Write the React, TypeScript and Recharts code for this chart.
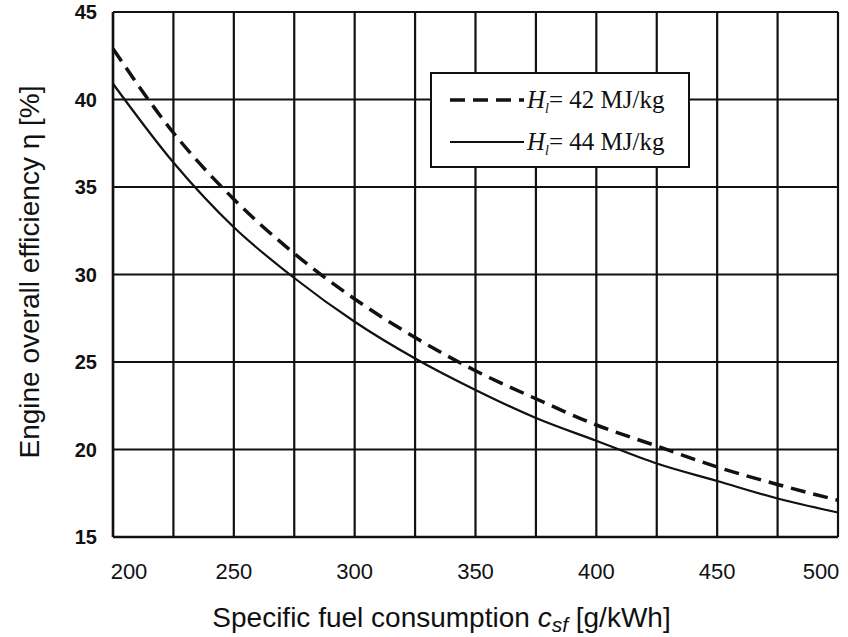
import { LineChart, Line, XAxis, YAxis, CartesianGrid, Label } from "recharts";

const fuelConsumption = [200, 225, 250, 275, 300, 325, 350, 375, 400, 425, 450, 475, 500];
const eta42 = [42.9, 38.1, 34.3, 31.2, 28.6, 26.4, 24.5, 22.9, 21.4, 20.2, 19.0, 18.0, 17.1];
const eta44 = [40.9, 36.4, 32.7, 29.8, 27.3, 25.2, 23.4, 21.8, 20.5, 19.2, 18.2, 17.2, 16.4];
const xTicks = [200, 225, 250, 275, 300, 325, 350, 375, 400, 425, 450, 475, 500];
const xLabelled = [200, 250, 300, 350, 400, 450, 500];
const yTicks = [15, 20, 25, 30, 35, 40, 45];
const seriesNames = ["42 MJ/kg", "44 MJ/kg"];

const data = fuelConsumption.map((c, i) => ({ c, h42: eta42[i], h44: eta44[i] }));

const INK = "#111";
const SANS = "Liberation Sans, Arial, sans-serif";
const SERIF = "Liberation Serif, Times New Roman, serif";

function XTick(props: any) {
  const { x, y, payload } = props;
  if (!xLabelled.includes(payload.value)) return null;
  let dx = 0;
  if (payload.value === 200) dx = 16;
  if (payload.value === 500) dx = -17;
  return (
    <text x={x + dx} y={y} dy={24} textAnchor="middle" fontFamily={SANS} fontSize={22} fill={INK}>
      {payload.value}
    </text>
  );
}

function XTitle(props: any) {
  const { viewBox } = props;
  const cx = viewBox.x + viewBox.width / 2 - 34;
  return (
    <text x={cx} y={627} textAnchor="middle" fontFamily={SANS} fontSize={28} fill={INK}>
      Specific fuel consumption{" "}
      <tspan fontStyle="italic">c</tspan>
      <tspan fontStyle="italic" fontSize={21} dy={5}>sf</tspan>
      <tspan dy={-5}> [g/kWh]</tspan>
    </text>
  );
}

function YTitle() {
  return (
    <text
      x={39}
      y={272}
      transform="rotate(-90 39 272)"
      textAnchor="middle"
      fontFamily={SANS}
      fontSize={28}
      fill={INK}
    >
      Engine overall efficiency η [%]
    </text>
  );
}

function LegendBox() {
  const rows = [
    { name: seriesNames[0], dash: "15 8", width: 3.5 },
    { name: seriesNames[1], dash: undefined, width: 2.2 },
  ];
  return (
    <div
      style={{
        position: "absolute",
        left: 430,
        top: 72,
        width: 260,
        height: 96,
        background: "#fff",
        border: `2.5px solid ${INK}`,
        boxSizing: "border-box",
      }}
    >
      <svg width={256} height={92}>
        {rows.map((r, i) => (
          <g key={r.name}>
            <line
              x1={18}
              x2={92}
              y1={26 + i * 42}
              y2={26 + i * 42}
              stroke={INK}
              strokeWidth={r.width}
              strokeDasharray={r.dash}
            />
            <text x={95} y={34 + i * 42} fontFamily={SERIF} fontSize={25} fill={INK}>
              <tspan fontStyle="italic">H</tspan>
              <tspan fontStyle="italic" fontSize={14} dy={5}>l</tspan>
              <tspan dy={-5}>= {r.name}</tspan>
            </text>
          </g>
        ))}
      </svg>
    </div>
  );
}

export default function App() {
  return (
    <div style={{ position: "absolute", left: 0, top: 0, width: 848, height: 637, background: "#fff" }}>
      <LineChart width={848} height={637} data={data} margin={{ top: 12, right: 10, bottom: 40, left: 53 }}>
        <CartesianGrid stroke={INK} strokeWidth={2.2} horizontal vertical />
        <XAxis
          dataKey="c"
          type="number"
          domain={[200, 500]}
          ticks={xTicks}
          interval={0}
          height={60}
          tick={<XTick />}
          tickLine={false}
          axisLine={{ stroke: INK, strokeWidth: 2.5 }}
          tickMargin={12}
        >
          <Label content={<XTitle />} />
        </XAxis>
        <YAxis
          type="number"
          domain={[15, 45]}
          ticks={yTicks}
          interval={0}
          width={60}
          tick={{ fontFamily: SANS, fontSize: 20, fontWeight: "bold", fill: INK }}
          tickLine={false}
          axisLine={{ stroke: INK, strokeWidth: 2.5 }}
          tickMargin={10}
        >
          <Label content={<YTitle />} />
        </YAxis>
        <Line
          type="monotone"
          dataKey="h42"
          stroke={INK}
          strokeWidth={3.5}
          strokeDasharray="15 8"
          dot={false}
          isAnimationActive={false}
        />
        <Line
          type="monotone"
          dataKey="h44"
          stroke={INK}
          strokeWidth={2.2}
          dot={false}
          isAnimationActive={false}
        />
      </LineChart>
      <LegendBox />
    </div>
  );
}
